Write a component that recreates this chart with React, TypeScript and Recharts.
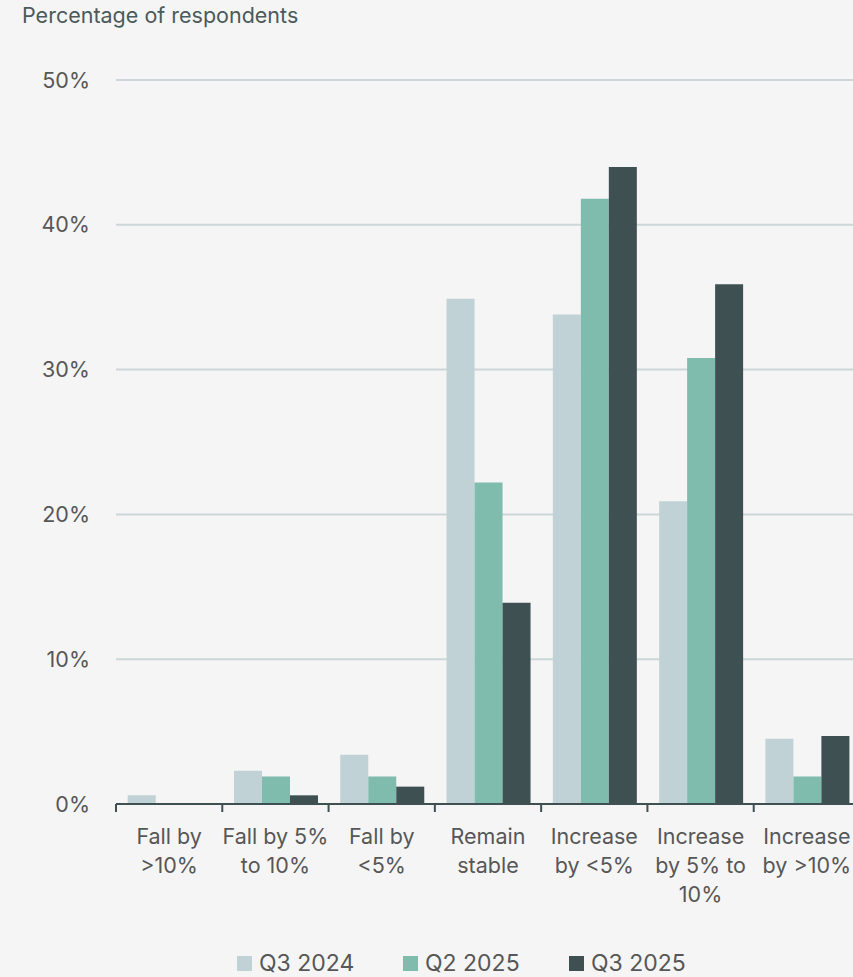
import React from "react";
import { BarChart, Bar, XAxis, YAxis, CartesianGrid, Legend } from "recharts";

// ─── Data ───────────────────────────────────────────────────────────

const categories = [
  "Fall by\n>10%",
  "Fall by 5%\nto 10%",
  "Fall by\n<5%",
  "Remain\nstable",
  "Increase\nby <5%",
  "Increase\nby 5% to\n10%",
  "Increase\nby >10%",
];

const q3_2024 = [0.6, 2.3, 3.4, 34.9, 33.8, 20.9, 4.5];
const q2_2025 = [0, 1.9, 1.9, 22.2, 41.8, 30.8, 1.9];
const q3_2025 = [0, 0.6, 1.2, 13.9, 44.0, 35.9, 4.7];

const yTicks = [0, 10, 20, 30, 40, 50];

const seriesNames = ["Q3 2024", "Q2 2025", "Q3 2025"];
const seriesColors = ["#c0d2d5", "#80bcad", "#3f5053"];

// ─── Layout ─────────────────────────────────────────────────────────

const CHART_W = 880;
const CHART_H = 977;
const MARGIN = { top: 80, right: 20, bottom: 0, left: 0 };
const Y_AXIS_W = 116;
const STEP = (CHART_W - MARGIN.right - MARGIN.left - Y_AXIS_W) / categories.length;

const FONT = "Inter, 'Noto Sans', Roboto, sans-serif";
const TEXT = "#575757";
const AXIS = "#3f5053";

const chartData = categories.map((name, i) => ({
  name,
  q3_2024: q3_2024[i],
  q2_2025: q2_2025[i],
  q3_2025: q3_2025[i],
}));

// Category labels wrap onto several lines, tick marks sit between groups
function CategoryTick({ x, y, payload }: { x?: number; y?: number; payload?: { value: string } }) {
  if (x == null || y == null || !payload) return null;
  const lines = payload.value.split("\n");
  const left = x - STEP / 2;
  return (
    <g>
      <line x1={left} x2={left} y1={y} y2={y + 8} stroke={AXIS} strokeWidth={2} />
      <text x={x} y={y} textAnchor="middle" fill={TEXT} fontSize={21.5} fontFamily={FONT}>
        {lines.map((l, i) => (
          <tspan key={i} x={x} dy={i === 0 ? 40 : 29}>
            {l}
          </tspan>
        ))}
      </text>
    </g>
  );
}

function LegendContent() {
  return (
    <div style={{ display: "flex", height: 40, alignItems: "center" }}>
      {seriesNames.map((n, i) => (
        <div key={n} style={{ display: "flex", alignItems: "center", width: 166 }}>
          <span
            style={{
              display: "inline-block",
              width: 15,
              height: 15,
              background: seriesColors[i],
              marginRight: 7,
            }}
          />
          <span style={{ fontSize: 23, color: TEXT, fontFamily: FONT }}>{n}</span>
        </div>
      ))}
    </div>
  );
}

export default function App() {
  return (
    <div
      style={{
        position: "absolute",
        left: 0,
        top: 0,
        width: 853,
        height: 977,
        overflow: "hidden",
        background: "#f5f5f5",
        fontFamily: FONT,
      }}
    >
      <div
        style={{
          position: "absolute",
          left: 22,
          top: 2,
          fontSize: 21.5,
          color: "#4b5a5b",
        }}
      >
        Percentage of respondents
      </div>
      <BarChart
        width={CHART_W}
        height={CHART_H}
        data={chartData}
        margin={MARGIN}
        barCategoryGap="11%"
        barGap={0}
      >
        <CartesianGrid vertical={false} stroke="#cdd6d8" strokeWidth={2} />
        <XAxis
          dataKey="name"
          interval={0}
          height={133}
          tickLine={false}
          tickSize={0}
          tickMargin={0}
          stroke={AXIS}
          strokeWidth={2}
          tick={<CategoryTick />}
        />
        <YAxis
          width={Y_AXIS_W}
          domain={[0, 50]}
          ticks={yTicks}
          interval={0}
          axisLine={false}
          tickLine={false}
          tickSize={0}
          tickMargin={26}
          tickFormatter={(v: number) => `${v}%`}
          tick={{ fill: TEXT, fontSize: 21.5, fontFamily: FONT }}
        />
        <Legend
          verticalAlign="bottom"
          content={<LegendContent />}
          wrapperStyle={{ left: 237, bottom: -6, width: "auto" }}
        />
        <Bar dataKey="q3_2024" name="Q3 2024" fill={seriesColors[0]} isAnimationActive={false} />
        <Bar dataKey="q2_2025" name="Q2 2025" fill={seriesColors[1]} isAnimationActive={false} />
        <Bar dataKey="q3_2025" name="Q3 2025" fill={seriesColors[2]} isAnimationActive={false} />
      </BarChart>
    </div>
  );
}
